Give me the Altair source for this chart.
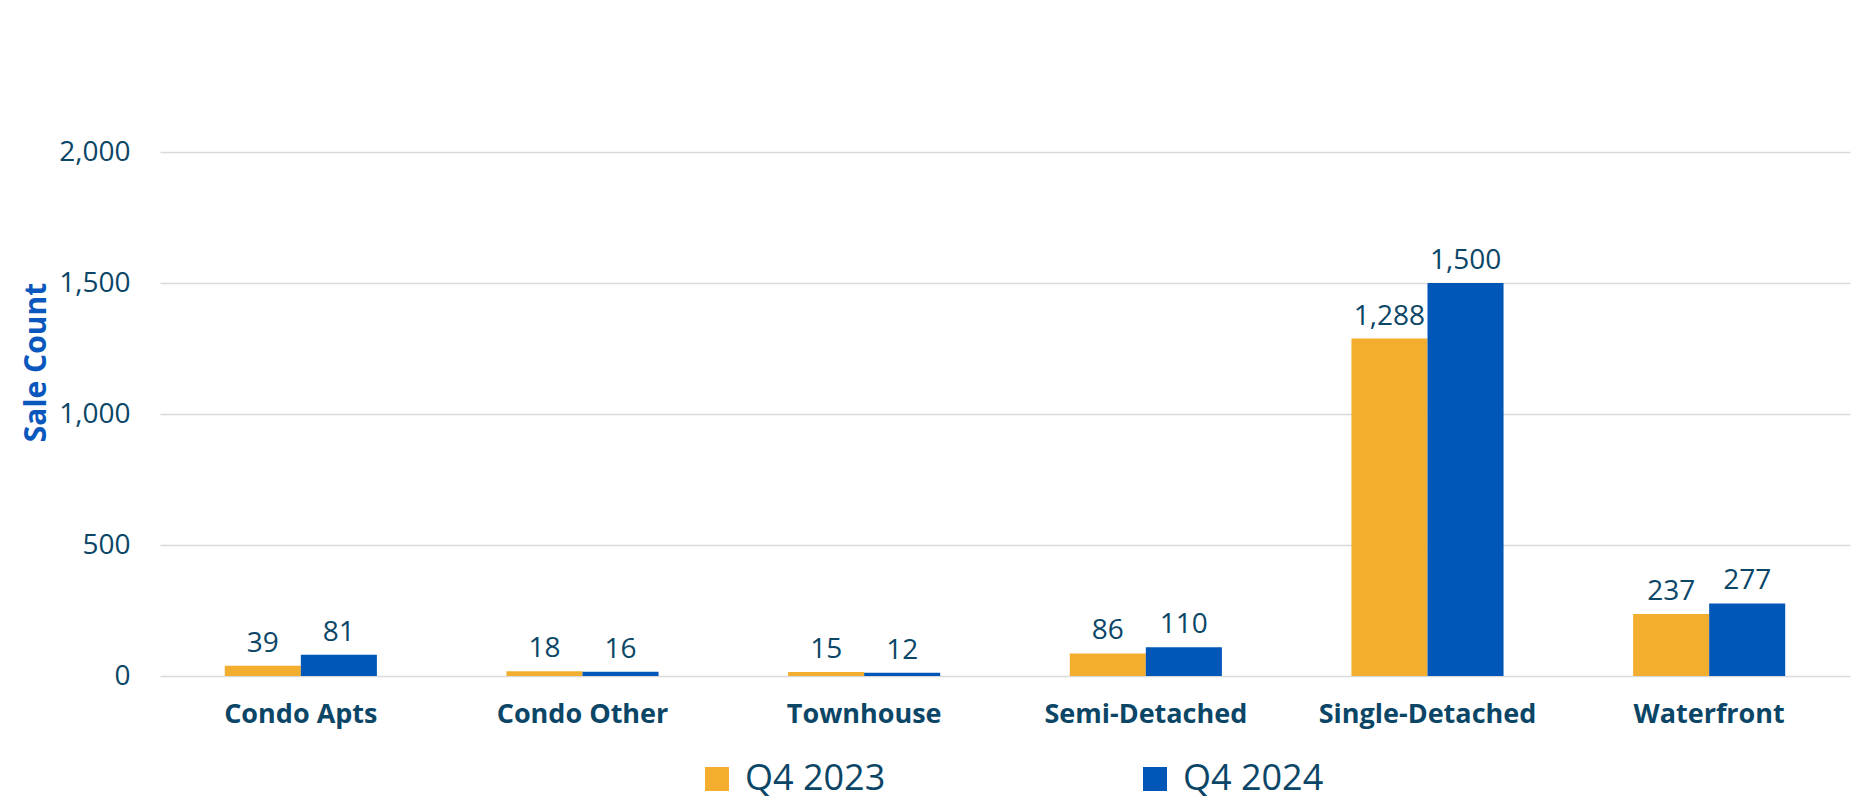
import altair as alt
import pandas as pd

categories = ["Condo Apts", "Condo Other", "Townhouse", "Semi-Detached", "Single-Detached", "Waterfront"]
series = ["Q4 2023", "Q4 2024"]
q4_2023 = [39, 18, 15, 86, 1288, 237]
q4_2024 = [81, 16, 12, 110, 1500, 277]
y_ticks = [0, 500, 1000, 1500, 2000]
colors = ["#F3AD2F", "#0057B8"]

TEXT = "#0B4667"
FONT = "Open Sans"

rows = []
for c, a, b in zip(categories, q4_2023, q4_2024):
    rows.append({"Category": c, "Series": series[0], "Value": a})
    rows.append({"Category": c, "Series": series[1], "Value": b})
df = pd.DataFrame(rows)

base = alt.Chart(df).encode(
    x=alt.X(
        "Category:N",
        sort=categories,
        scale=alt.Scale(paddingInner=0.46, paddingOuter=0.23),
        axis=alt.Axis(
            title=None,
            domain=False,
            ticks=False,
            labelAngle=0,
            labelFont=FONT,
            labelFontSize=27,
            labelFontWeight="bold",
            labelColor=TEXT,
            labelPadding=25,
            labelLimit=0,
        ),
    ),
    xOffset=alt.XOffset("Series:N", sort=series, scale=alt.Scale(paddingInner=0, paddingOuter=0)),
    y=alt.Y(
        "Value:Q",
        scale=alt.Scale(domain=[0, 2000], nice=False),
        axis=alt.Axis(
            values=y_ticks,
            format=",.0f",
            grid=True,
            gridColor="#D9D9D9",
            gridWidth=1.5,
            domain=False,
            ticks=False,
            labelFont=FONT,
            labelFontSize=28,
            labelColor=TEXT,
            labelPadding=30,
            title="Sale Count",
            titleFont=FONT,
            titleFontSize=30,
            titleFontWeight="bold",
            titleColor="#0A57BD",
            titleAngle=270,
            titleX=-124,
            titleY=210,
            titleAlign="center",
            titleBaseline="middle",
        ),
    ),
)

bars = base.mark_bar().encode(
    color=alt.Color(
        "Series:N",
        sort=series,
        scale=alt.Scale(domain=series, range=colors),
        legend=alt.Legend(
            title=None,
            orient="none",
            legendX=539,
            legendY=609,
            direction="horizontal",
            columns=2,
            columnPadding=251,
            symbolType="square",
            symbolSize=576,
            symbolStrokeWidth=0,
            labelFont=FONT,
            labelFontSize=36,
            labelColor=TEXT,
            labelOffset=10,
            labelLimit=400,
        ),
    )
)

labels = base.mark_text(
    baseline="bottom", dy=-8, font=FONT, fontSize=28, color=TEXT
).encode(text=alt.Text("Value:Q", format=",.0f"))

chart = (
    alt.layer(bars, labels)
    .properties(
        width=1690,
        height=524,
        autosize="none",
        padding={"left": 152, "top": 144, "right": 1, "bottom": 121},
        background="white",
    )
    .configure_view(stroke=None)
)

chart.save("out.html", embed_options={"renderer": "svg", "actions": False})
